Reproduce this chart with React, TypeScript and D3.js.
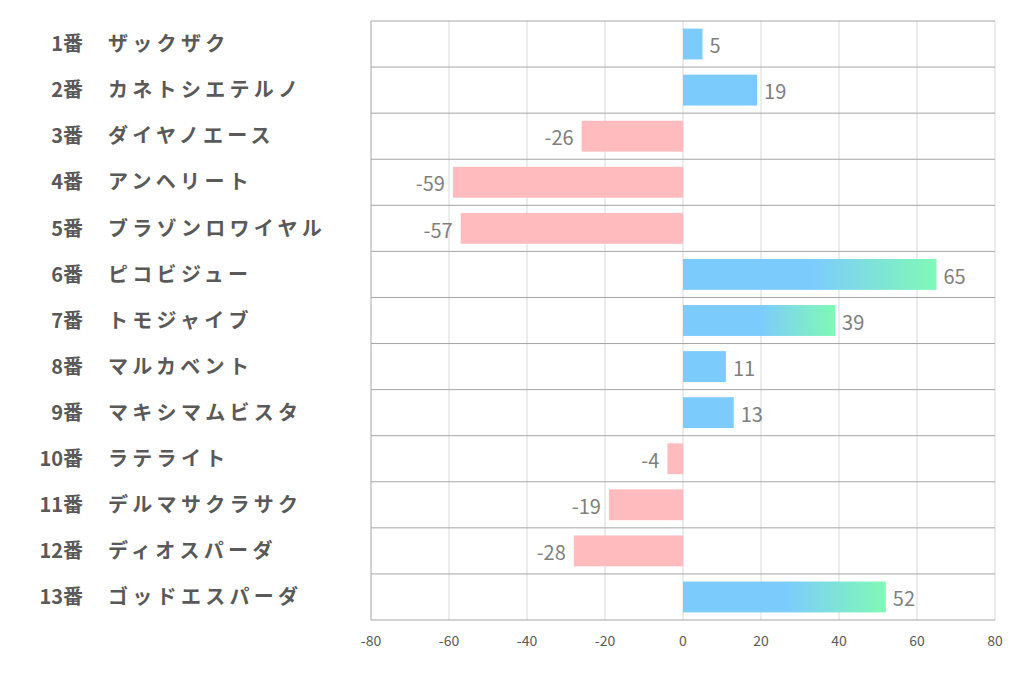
import React from "react";
import * as d3 from "d3";

const numbers = ["1番","2番","3番","4番","5番","6番","7番","8番","9番","10番","11番","12番","13番"];
const names = ["ザックザク","カネトシエテルノ","ダイヤノエース","アンヘリート","ブラゾンロワイヤル","ピコビジュー","トモジャイブ","マルカベント","マキシマムビスタ","ラテライト","デルマサクラサク","ディオスパーダ","ゴッドエスパーダ"];
const values = [5, 19, -26, -59, -57, 65, 39, 11, 13, -4, -19, -28, 52];
const xTicks = [-80, -60, -40, -20, 0, 20, 40, 60, 80];

const W = 1022, H = 678;
const left = 371, right = 995, top = 21, bottom = 620;

export default function App() {
  const x = d3.scaleLinear().domain([-80, 80]).range([left, right]);
  const y = d3.scaleBand<number>().domain(d3.range(values.length)).range([top, bottom]).paddingInner(0.33).paddingOuter(0.165);
  const step = y.step();
  const rowLines = d3.range(values.length + 1).map(i => top + i * step);
  const font = "'Noto Sans CJK JP', 'Noto Sans', sans-serif";
  return (
    <svg width={W} height={H} style={{ position: "absolute", left: 0, top: 0, background: "#fff" }}>
      <defs>
        <linearGradient id="gpos" x1="0" x2="1" y1="0" y2="0">
          <stop offset="0" stopColor="#7ccbfd" />
          <stop offset="0.5" stopColor="#7ccbfd" />
          <stop offset="1" stopColor="#80f9b6" />
        </linearGradient>
      </defs>
      {xTicks.map(t => (
        <line key={"v" + t} x1={x(t)} x2={x(t)} y1={top} y2={bottom} stroke={t === -80 ? "#a6a6a6" : "#d9d9d9"} strokeWidth={1} />
      ))}
      {rowLines.map((yy, i) => (
        <line key={"h" + i} x1={left} x2={right} y1={yy} y2={yy} stroke="#a6a6a6" strokeWidth={1} />
      ))}
      {values.map((v, i) => {
        const x0 = x(Math.min(0, v));
        const w = Math.abs(x(v) - x(0));
        const fill = v < 0 ? "#ffbbbe" : v >= 30 ? "url(#gpos)" : "#7ccbfd";
        return <rect key={"b" + i} x={x0} y={y(i)} width={w} height={y.bandwidth()} fill={fill} />;
      })}
      {values.map((v, i) => (
        <text key={"l" + i} x={v < 0 ? x(v) - 8 : x(v) + 7} y={y(i)! + y.bandwidth() / 2 + 2} dy="0.36em"
          textAnchor={v < 0 ? "end" : "start"} fontFamily={font} fontSize={20} fill="#7f7f7f">{v}</text>
      ))}
      {numbers.map((n, i) => (
        <text key={"n" + i} x={83} y={top + (i + 0.5) * step} dy="0.36em" textAnchor="end" fontFamily={font}
          fontWeight="bold" fontSize={20} fill="#595959">{n}</text>
      ))}
      {names.map((n, i) => (
        <text key={"m" + i} x={108} y={top + (i + 0.5) * step} dy="0.36em" textAnchor="start" fontFamily={font}
          fontWeight="bold" fontSize={20} letterSpacing={4.3} fill="#595959">{n}</text>
      ))}
      {xTicks.map(t => (
        <text key={"t" + t} x={x(t)} y={641} dy="0.36em" textAnchor="middle" fontFamily={font} fontSize={14} fill="#595959">{t}</text>
      ))}
    </svg>
  );
}
